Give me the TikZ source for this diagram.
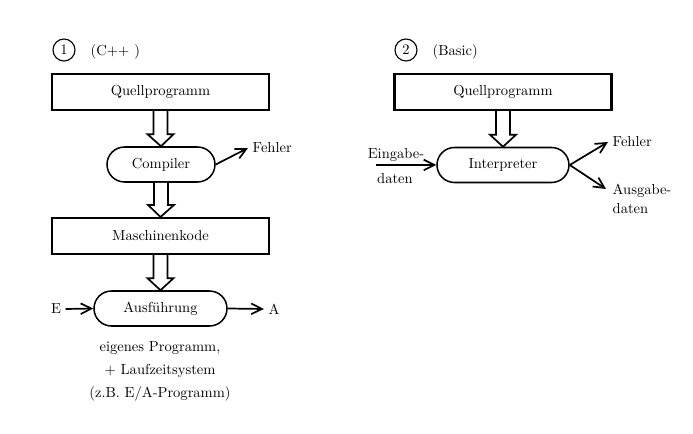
\documentclass[tikz,border=0pt]{standalone}
\usepackage{tikz}
\usetikzlibrary{calc,arrows.meta,shapes.misc}
\tikzset{
  box/.style={draw, line width=0.55mm, minimum width=162.75pt, minimum height=27pt, inner sep=0pt},
  proc/.style={draw, rounded rectangle, line width=0.4mm, minimum height=26.25pt, inner sep=0pt},
  num/.style={draw, circle, line width=0.3mm, minimum size=16.5pt, inner sep=0pt},
  flow/.style={line width=0.45mm, -{Straight Barb[length=8pt,width=8pt,line width=0.45mm]}},
  bigarr/.style={draw, line width=0.45mm, fill=white, line join=miter}
}
\def\bigarrow(#1)(#2){\draw[bigarr] let \p1=(#1.south), \p2=(#2.north) in
  (\x1-5.25pt,\y1) -- (\x1-5.25pt,\y2+9pt) -- (\x1-9.75pt,\y2+9pt) -- (\x2,\y2)
  -- (\x1+9.75pt,\y2+9pt) -- (\x1+5.25pt,\y2+9pt) -- (\x1+5.25pt,\y1);}

\begin{document}
\begin{tikzpicture}[x=0.75pt, y=-0.75pt, font=\fontsize{10.9}{13}\selectfont]
			%%%%% START %%%%%
			\useasboundingbox (0,0) rectangle (693,434);
			
			% left: C++
			\node[num] (n1) at (64, 50) {1};
			\node[anchor=west] (l1) at (86, 52) {(C++\ )};
			
			\node[box] (q1) at (160.5, 92) {Quellprogramm};
			\node[proc, minimum width=81pt] (comp) at (161, 164.5) {Compiler};
			\node[box] (mk) at (160.5, 236) {Maschinenkode};
			\node[proc, minimum width=99.75pt] (ausf) at (160.5, 308.5) {Ausführung};
			
			\bigarrow(q1)(comp)
			\bigarrow(comp)(mk)
			\bigarrow(mk)(ausf)
			
			\node[anchor=west] (f1) at (248, 148) {Fehler};
			\draw[flow] (comp.east) -- (f1.west);
			
			\node (e) at (56, 309) {E};
			\node (a) at (274, 309) {A};
			\draw[flow] (e.east) -- (ausf.west);
			\draw[flow] (ausf.east) -- (a.west);
			
			\node (t1) at (160, 348) {eigenes Programm,};
			\node (t2) at (160, 371) {+ Laufzeitsystem};
			\node (t3) at (160, 394) {(z.B. E/A-Programm)};
			
			% right: Basic
			\node[num] (n2) at (406, 50) {2};
			\node[anchor=west] (l2) at (428, 52) {(Basic)};
			
			\node[box] (q2) at (503, 92) {Quellprogramm};
			\node[proc, minimum width=99pt] (intp) at (503, 165) {Interpreter};
			\bigarrow(q2)(intp)
			
			\node (ein) at (396, 155) {Eingabe-};
			\node (ed) at (395, 179) {daten};
			\coordinate (ein0) at (376, 165);
			\draw[flow] (ein0) -- (intp.west);
			
			\node[anchor=west] (f2) at (608, 142) {Fehler};
			\node[anchor=west] (aus) at (608, 191) {Ausgabe-};
			\node[anchor=west] (ad) at (608, 209) {daten};
			\draw[flow] (intp.east) -- (f2.west);
			\draw[flow] (intp.east) -- ($(aus.west)+(-2,-2)$);
			
			%%%%% END %%%%%
\end{tikzpicture}
\end{document}
